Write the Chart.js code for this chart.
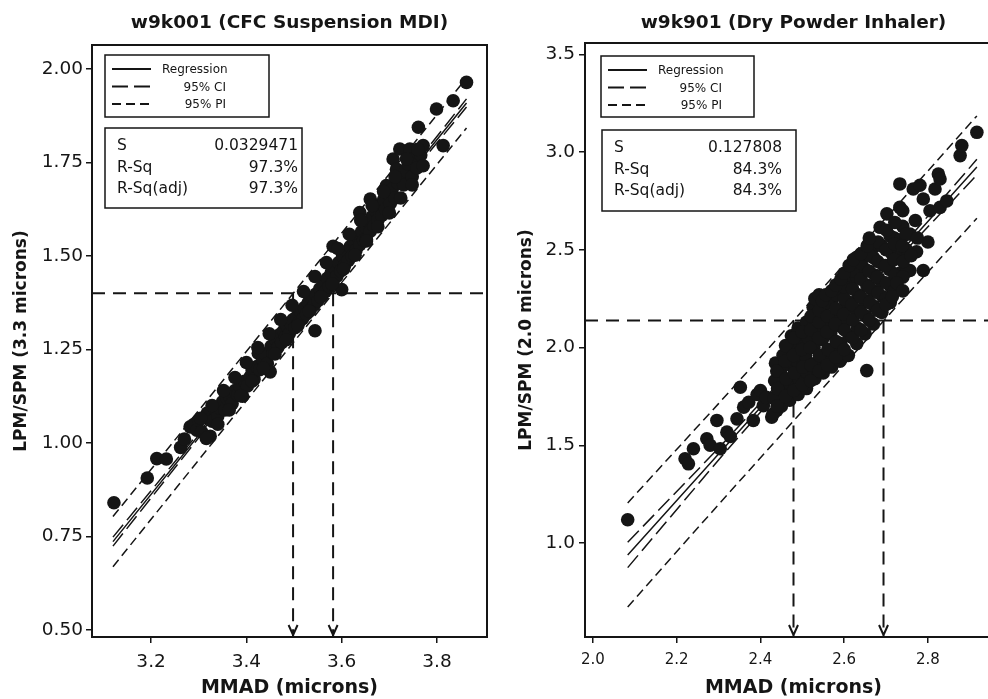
<!DOCTYPE html>
<html lang="en">
<head>
<meta charset="UTF-8">
<title>LPM/SPM versus MMAD</title>
<script src="https://cdn.jsdelivr.net/npm/chart.js"></script>
<style>
  body { margin: 0; background: #fff; overflow: hidden; }
  #wrap { position: relative; width: 988px; height: 699px; }
  canvas { position: absolute; top: 0; }
  #cfcChart { left: 0; }
  #dpiChart { left: 494px; }
</style>
</head>
<body>
<div id="wrap">
  <canvas id="cfcChart" width="494" height="699"></canvas>
  <canvas id="dpiChart" width="520" height="699"></canvas>
</div>

<script>
const ink = '#151515';
const fontFamily = '"DejaVu Sans", Verdana, sans-serif';

// ---------- w9k001 : CFC suspension MDI ----------
// [MMAD, LPM/SPM ratio]
const cfcPoints = [
  [3.122,0.840],[3.192,0.906],[3.212,0.958],[3.232,0.957],[3.262,0.988],[3.270,1.010],[3.282,1.043],
  [3.290,1.050],[3.296,1.034],[3.300,1.060],[3.306,1.030],[3.312,1.068],[3.318,1.080],[3.324,1.018],
  [3.328,1.058],[3.334,1.090],[3.340,1.072],[3.345,1.093],[3.350,1.110],[3.355,1.088],[3.360,1.118],
  [3.366,1.123],[3.370,1.105],[3.376,1.140],[3.382,1.128],[3.387,1.150],[3.392,1.125],[3.396,1.165],
  [3.402,1.152],[3.408,1.177],[3.412,1.195],[3.416,1.170],[3.422,1.204],[3.425,1.240],[3.428,1.196],
  [3.434,1.222],[3.440,1.238],[3.444,1.212],[3.450,1.190],[3.452,1.258],[3.456,1.240],[3.462,1.275],
  [3.466,1.255],[3.470,1.290],[3.474,1.268],[3.478,1.300],[3.482,1.284],[3.486,1.312],[3.490,1.292],
  [3.494,1.318],[3.498,1.330],[3.502,1.308],[3.506,1.338],[3.510,1.322],[3.514,1.350],[3.518,1.332],
  [3.522,1.362],[3.526,1.345],[3.530,1.375],[3.534,1.356],[3.538,1.386],[3.542,1.368],[3.544,1.300],
  [3.546,1.398],[3.550,1.380],[3.554,1.412],[3.558,1.392],[3.562,1.425],[3.566,1.405],[3.570,1.440],
  [3.574,1.418],[3.578,1.455],[3.582,1.526],[3.582,1.432],[3.586,1.468],[3.590,1.446],[3.594,1.482],
  [3.598,1.460],[3.600,1.410],[3.602,1.500],[3.606,1.474],[3.610,1.512],[3.614,1.488],[3.618,1.525],
  [3.622,1.500],[3.626,1.540],[3.630,1.515],[3.634,1.552],[3.638,1.616],[3.638,1.530],[3.642,1.565],
  [3.646,1.542],[3.650,1.578],[3.652,1.544],[3.656,1.592],[3.660,1.652],[3.660,1.566],[3.664,1.605],
  [3.668,1.580],[3.672,1.620],[3.676,1.596],[3.680,1.636],[3.684,1.608],[3.688,1.650],[3.692,1.625],
  [3.694,1.688],[3.698,1.665],[3.702,1.640],[3.706,1.678],[3.708,1.759],[3.712,1.655],[3.715,1.732],
  [3.718,1.695],[3.722,1.786],[3.724,1.710],[3.730,1.690],[3.734,1.728],[3.740,1.745],[3.743,1.786],
  [3.748,1.712],[3.752,1.760],[3.758,1.735],[3.761,1.844],[3.766,1.770],[3.771,1.741],[3.771,1.795],
  [3.799,1.893],[3.813,1.795],[3.834,1.915],[3.862,1.964],
  [3.304,1.066],[3.316,1.012],[3.328,1.100],[3.340,1.050],[3.352,1.140],[3.364,1.088],[3.376,1.175],
  [3.388,1.126],[3.400,1.215],[3.412,1.165],[3.424,1.255],[3.436,1.200],[3.448,1.292],[3.460,1.238],
  [3.472,1.330],[3.484,1.276],[3.496,1.368],[3.508,1.314],[3.520,1.405],[3.532,1.352],[3.544,1.445],
  [3.556,1.390],[3.568,1.482],[3.580,1.425],[3.592,1.520],[3.604,1.465],[3.616,1.558],[3.628,1.502],
  [3.640,1.595],[3.652,1.540],[3.664,1.635],[3.676,1.578],[3.688,1.672],[3.700,1.615],[3.712,1.712],
  [3.724,1.655],[3.736,1.760],[3.748,1.690],[3.760,1.785]
];
// fitted line, confidence and prediction bands
const cfcFitX = [3.12, 3.33, 3.54, 3.70, 3.862];
const cfcFit  = [0.736, 1.068, 1.400, 1.653, 1.909];
const cfcCiUp = [0.748, 1.074, 1.403, 1.658, 1.920];
const cfcCiLo = [0.724, 1.062, 1.397, 1.648, 1.898];
const cfcPiUp = [0.803, 1.134, 1.466, 1.719, 1.976];
const cfcPiLo = [0.669, 1.002, 1.334, 1.587, 1.842];
const cfcTarget = 1.40;
const cfcLimits = [3.498, 3.582];
const cfcXTicks = [3.2, 3.4, 3.6, 3.8];
const cfcYTicks = [0.50, 0.75, 1.00, 1.25, 1.50, 1.75, 2.00];
const cfcStats = [['S', '0.0329471'], ['R-Sq', '97.3%'], ['R-Sq(adj)', '97.3%']];

// ---------- w9k901 : dry powder inhaler ----------
const dpiPoints = [
  [2.083,1.119],[2.220,1.431],[2.228,1.405],[2.240,1.482],[2.272,1.533],[2.280,1.500],[2.296,1.627],
  [2.304,1.482],[2.320,1.567],[2.328,1.545],[2.344,1.635],[2.352,1.797],[2.360,1.695],[2.372,1.720],
  [2.383,1.627],[2.392,1.760],[2.400,1.780],[2.407,1.703],[2.414,1.745],[2.427,1.644],[2.439,1.678],
  [2.463,1.968],[2.487,2.000],[2.526,2.206],[2.534,2.170],[2.654,1.882],[2.606,2.343],[2.630,2.462],
  [2.670,2.513],[2.686,2.615],[2.702,2.684],[2.733,2.717],[2.733,2.837],[2.757,2.581],[2.765,2.811],
  [2.773,2.490],[2.781,2.830],[2.789,2.760],[2.789,2.394],[2.757,2.394],[2.800,2.540],[2.805,2.700],
  [2.817,2.811],[2.825,2.888],[2.829,2.862],[2.829,2.717],[2.845,2.750],[2.877,2.982],[2.881,3.033],
  [2.917,3.101],[2.749,2.500],[2.740,2.620],[2.720,2.560],
  [2.430,1.660],[2.432,1.740],[2.434,1.830],[2.436,1.920],
  [2.450,1.700],[2.452,1.790],[2.448,1.880],[2.454,1.960],
  [2.470,1.730],[2.468,1.820],[2.472,1.910],[2.470,2.000],[2.474,2.060],
  [2.490,1.760],[2.492,1.840],[2.488,1.930],[2.494,2.020],[2.490,2.100],
  [2.510,1.790],[2.512,1.870],[2.508,1.960],[2.514,2.050],[2.510,2.130],
  [2.530,1.840],[2.532,1.920],[2.528,2.000],[2.534,2.090],
  [2.550,1.870],[2.552,1.950],[2.548,2.040],[2.554,2.120],[2.550,2.200],
  [2.570,1.900],[2.572,1.990],[2.568,2.070],[2.574,2.150],[2.570,2.240],
  [2.590,1.930],[2.592,2.020],[2.588,2.110],[2.594,2.190],[2.590,2.280],
  [2.610,1.960],[2.612,2.060],[2.608,2.140],[2.614,2.230],[2.610,2.340],
  [2.630,2.020],[2.632,2.100],[2.628,2.190],[2.634,2.270],[2.630,2.360],
  [2.650,2.070],[2.652,2.160],[2.648,2.240],[2.654,2.320],[2.650,2.400],
  [2.670,2.120],[2.672,2.210],[2.668,2.290],[2.674,2.370],[2.670,2.460],
  [2.690,2.180],[2.692,2.260],[2.688,2.340],[2.694,2.420],[2.690,2.520],
  [2.710,2.230],[2.712,2.310],[2.708,2.400],[2.714,2.480],[2.710,2.570],
  [2.730,2.300],[2.732,2.380],[2.728,2.460],[2.734,2.550],
  [2.750,2.390],[2.752,2.470],[2.748,2.580],
  [2.440,1.700],[2.441,1.790],[2.439,1.880],
  [2.460,1.750],[2.461,1.840],[2.459,1.930],[2.460,2.010],
  [2.480,1.780],[2.481,1.870],[2.479,1.960],[2.480,2.050],
  [2.500,1.810],[2.501,1.900],[2.499,1.990],[2.500,2.080],
  [2.520,1.830],[2.521,1.910],[2.519,2.000],[2.520,2.090],[2.521,2.160],
  [2.540,1.880],[2.541,1.960],[2.539,2.050],[2.540,2.130],[2.541,2.190],
  [2.560,1.910],[2.561,1.990],[2.559,2.080],[2.560,2.160],[2.561,2.230],
  [2.580,1.950],[2.581,2.030],[2.579,2.120],[2.580,2.200],[2.581,2.270],
  [2.600,1.990],[2.601,2.090],[2.599,2.170],[2.600,2.250],[2.601,2.310],
  [2.620,2.050],[2.621,2.140],[2.619,2.220],[2.620,2.300],[2.621,2.390],
  [2.640,2.090],[2.641,2.180],[2.639,2.260],[2.640,2.350],[2.641,2.430],
  [2.660,2.140],[2.661,2.230],[2.659,2.310],[2.660,2.390],[2.661,2.470],
  [2.680,2.190],[2.681,2.280],[2.679,2.360],[2.680,2.440],[2.681,2.540],
  [2.700,2.250],[2.701,2.330],[2.699,2.420],[2.700,2.500],[2.701,2.600],
  [2.720,2.290],[2.721,2.370],[2.719,2.450],[2.720,2.530],[2.721,2.640],
  [2.740,2.360],[2.741,2.440],[2.739,2.520],[2.740,2.700],
  [2.530,2.250],[2.540,2.270],[2.548,2.240],[2.556,2.270],[2.570,2.290],[2.580,2.320],
  [2.592,2.350],[2.600,2.380],[2.612,2.420],[2.622,2.450],[2.640,2.480],[2.655,2.520],
  [2.660,2.560],[2.700,2.220],[2.715,2.260],[2.726,2.330],[2.740,2.290],[2.770,2.650],
  [2.760,2.470],[2.775,2.560]
];
const dpiFitX = [2.083, 2.30, 2.587, 2.75, 2.917];
const dpiFit  = [0.939, 1.455, 2.138, 2.526, 2.923];
const dpiCiUp = [1.004, 1.485, 2.150, 2.548, 2.963];
const dpiCiLo = [0.874, 1.425, 2.126, 2.504, 2.883];
const dpiPiUp = [1.205, 1.713, 2.394, 2.783, 3.185];
const dpiPiLo = [0.673, 1.197, 1.882, 2.269, 2.661];
const dpiTarget = 2.138;
const dpiLimits = [2.479, 2.694];
const dpiXTicks = [2.0, 2.2, 2.4, 2.6, 2.8];
const dpiYTicks = [1.0, 1.5, 2.0, 2.5, 3.0, 3.5];
const dpiStats = [['S', '0.127808'], ['R-Sq', '84.3%'], ['R-Sq(adj)', '84.3%']];

const ciDash = [16, 6];
const piDash = [9, 5];
const refDash = [13, 8];

const panels = [
  {
    canvas: 'cfcChart',
    title: 'w9k001 (CFC Suspension MDI)',
    yTitle: 'LPM/SPM (3.3 microns)',
    points: cfcPoints, fitX: cfcFitX, fit: cfcFit,
    ciUp: cfcCiUp, ciLo: cfcCiLo, piUp: cfcPiUp, piLo: cfcPiLo,
    target: cfcTarget, limits: cfcLimits,
    xTicks: cfcXTicks, yTicks: cfcYTicks, xDigits: 1, yDigits: 2,
    xRange: [3.076, 3.905], yRange: [0.481, 2.064],
    pad: { top: 45, right: 7 }, yWidth: 92,
    xTickSize: 18.5, xTickPad: 8, yTickPad: 3, yTitlePad: 11,
    key: { dx: 13, dy: 10, w: 164, h: 62 },
    stats: cfcStats, box: { dx: 13, dy: 83, w: 197, h: 80, valRight: 193 }
  },
  {
    canvas: 'dpiChart',
    title: 'w9k901 (Dry Powder Inhaler)',
    yTitle: 'LPM/SPM (2.0 microns)',
    points: dpiPoints, fitX: dpiFitX, fit: dpiFit,
    ciUp: dpiCiUp, ciLo: dpiCiLo, piUp: dpiPiUp, piLo: dpiPiLo,
    target: dpiTarget, limits: dpiLimits,
    xTicks: dpiXTicks, yTicks: dpiYTicks, xDigits: 1, yDigits: 1,
    xRange: [1.981, 2.977], yRange: [0.519, 3.558],
    pad: { top: 43, right: 12 }, yWidth: 91,
    xTickSize: 15, xTickPad: 8, yTickPad: 4, yTitlePad: 22,
    key: { dx: 16, dy: 13, w: 153, h: 61 },
    stats: dpiStats, box: { dx: 17, dy: 87, w: 194, h: 81, valRight: 180 }
  }
];

function pairs(xs, ys) {
  return xs.map((x, i) => ({ x: x, y: ys[i] }));
}

function lineSet(data, dash, width) {
  return {
    data: data, showLine: true, pointRadius: 0, fill: false,
    borderColor: ink, borderWidth: width || 1.5, borderDash: dash || [],
    order: 2
  };
}

// frame, arrowheads, title, key and statistics box
function decor(p) {
  return {
    id: 'decor',
    afterDraw(chart) {
      const { ctx, chartArea: a, scales: { x } } = chart;
      ctx.save();
      ctx.strokeStyle = ink;
      ctx.fillStyle = ink;
      ctx.setLineDash([]);

      ctx.lineWidth = 2;
      ctx.strokeRect(a.left, a.top, a.right - a.left, a.bottom - a.top);

      p.limits.forEach(v => {
        const px = x.getPixelForValue(v), tip = a.bottom - 2;
        ctx.beginPath();
        ctx.moveTo(px - 4.5, tip - 10);
        ctx.lineTo(px, tip);
        ctx.lineTo(px + 4.5, tip - 10);
        ctx.stroke();
      });

      ctx.font = 'bold 18.5px ' + fontFamily;
      ctx.textAlign = 'center';
      ctx.textBaseline = 'middle';
      ctx.fillText(p.title, (a.left + a.right) / 2, 23);

      // key
      const k = p.key, kl = a.left + k.dx, kt = a.top + k.dy;
      ctx.lineWidth = 1.5;
      ctx.strokeRect(kl, kt, k.w, k.h);
      const rows = [['Regression', [], 'left'], ['95% CI', ciDash, 'right'], ['95% PI', piDash, 'right']];
      ctx.font = '12px ' + fontFamily;
      rows.forEach((r, i) => {
        const ry = kt + 14 + i * 17.5;
        ctx.lineWidth = 1.8;
        ctx.setLineDash(r[1]);
        ctx.beginPath();
        ctx.moveTo(kl + 7, ry);
        ctx.lineTo(kl + 46, ry);
        ctx.stroke();
        ctx.setLineDash([]);
        ctx.textAlign = r[2];
        ctx.fillText(r[0], r[2] === 'left' ? kl + 57 : kl + 121, ry + 1);
      });

      // fit statistics
      const b = p.box, bl = a.left + b.dx, bt = a.top + b.dy;
      ctx.lineWidth = 1.5;
      ctx.strokeRect(bl, bt, b.w, b.h);
      ctx.font = '15.5px ' + fontFamily;
      p.stats.forEach((s, i) => {
        const ry = bt + 18 + i * 21.5;
        ctx.textAlign = 'left';
        ctx.fillText(s[0], bl + 12, ry);
        ctx.textAlign = 'right';
        ctx.fillText(s[1], bl + b.valRight, ry);
      });
      ctx.restore();
    }
  };
}

function build(p) {
  const [x0, x1] = p.xRange, [y0, y1] = p.yRange;
  const datasets = [
    {
      data: p.points.map(d => ({ x: d[0], y: d[1] })),
      pointRadius: 6.8, pointBackgroundColor: ink, pointBorderWidth: 0,
      pointHoverRadius: 6.8, order: 0
    },
    lineSet(pairs(p.fitX, p.fit)),
    lineSet(pairs(p.fitX, p.ciUp), ciDash),
    lineSet(pairs(p.fitX, p.ciLo), ciDash),
    lineSet(pairs(p.fitX, p.piUp), piDash),
    lineSet(pairs(p.fitX, p.piLo), piDash),
    lineSet([{ x: x0, y: p.target }, { x: x1, y: p.target }], refDash, 2),
    lineSet([{ x: p.limits[0], y: p.target }, { x: p.limits[0], y: y0 }], refDash, 2),
    lineSet([{ x: p.limits[1], y: p.target }, { x: p.limits[1], y: y0 }], refDash, 2)
  ];

  const tickGrid = { drawOnChartArea: false, drawTicks: true, tickLength: 6, color: ink, lineWidth: 1.5 };

  new Chart(document.getElementById(p.canvas), {
    type: 'scatter',
    data: { datasets: datasets },
    options: {
      responsive: false,
      animation: false,
      devicePixelRatio: 1,
      layout: { padding: { top: p.pad.top, right: p.pad.right, left: 0, bottom: 0 } },
      plugins: { legend: { display: false }, tooltip: { enabled: false } },
      scales: {
        x: {
          type: 'linear', min: x0, max: x1,
          afterBuildTicks: s => { s.ticks = p.xTicks.map(v => ({ value: v })); },
          afterFit: s => { s.height = 62; },
          grid: tickGrid,
          border: { display: false },
          ticks: {
            color: ink, padding: p.xTickPad, maxRotation: 0, autoSkip: false,
            font: { family: fontFamily, size: p.xTickSize },
            callback: v => Number(v).toFixed(p.xDigits)
          },
          title: {
            display: true, text: 'MMAD (microns)', color: ink,
            font: { family: fontFamily, size: 19, weight: 'bold' },
            padding: { top: 0, bottom: 0 }
          }
        },
        y: {
          type: 'linear', min: y0, max: y1,
          afterBuildTicks: s => { s.ticks = p.yTicks.map(v => ({ value: v })); },
          afterFit: s => { s.width = p.yWidth; },
          grid: tickGrid,
          border: { display: false },
          ticks: {
            color: ink, padding: p.yTickPad, autoSkip: false,
            font: { family: fontFamily, size: 18.5 },
            callback: v => Number(v).toFixed(p.yDigits)
          },
          title: {
            display: true, text: p.yTitle, color: ink,
            font: { family: fontFamily, size: 17, weight: 'bold' },
            padding: { top: p.yTitlePad, bottom: 0 }
          }
        }
      }
    },
    plugins: [decor(p)]
  });
}

panels.forEach(build);
</script>
</body>
</html>
